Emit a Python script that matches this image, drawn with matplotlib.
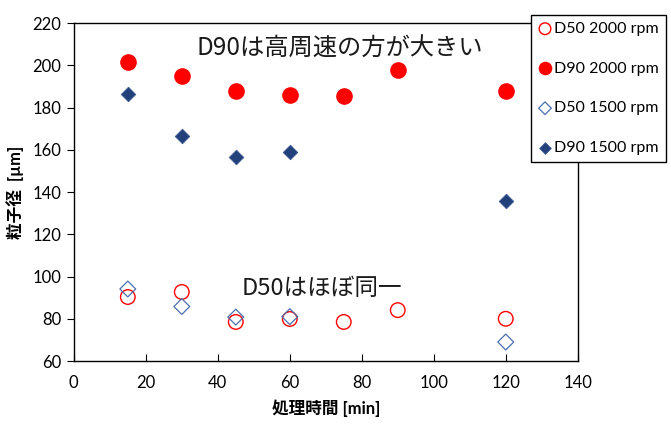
import matplotlib
matplotlib.use("Agg")
import matplotlib.pyplot as plt

plt.rcParams['font.family'] = ['Lato', 'Noto Sans CJK JP', 'DejaVu Sans']

# Data
time_2000 = [15, 30, 45, 60, 75, 90, 120]
d50_2000 = [90.3, 92.7, 78.5, 79.9, 78.5, 84.1, 80.0]
d90_2000 = [201.5, 194.9, 187.8, 186.0, 185.5, 197.7, 187.8]

time_1500 = [15, 30, 45, 60, 120]
d50_1500 = [94.1, 85.8, 80.8, 81.0, 69.0]
d90_1500 = [186.6, 166.5, 156.8, 159.2, 135.7]

labels = ["D50 2000 rpm", "D90 2000 rpm", "D50 1500 rpm", "D90 1500 rpm"]

RED = "#FF0000"
NAVY = "#22417A"
BLUE_EDGE = "#4A6FAE"
JP = ['Noto Sans CJK JP', 'DejaVu Sans']

fig = plt.figure(figsize=(6.71, 4.28), dpi=100)
ax = fig.add_axes([0.110, 0.1565, 0.751, 0.7895])

ax.scatter(time_2000, d50_2000, s=110, facecolors="none", edgecolors=RED,
           linewidths=1.0, label=labels[0], zorder=3)
ax.scatter(time_2000, d90_2000, s=120, color=RED, label=labels[1], zorder=3)
ax.scatter(time_1500, d50_1500, s=65, marker="D", facecolors="none",
           edgecolors=BLUE_EDGE, linewidths=0.9, label=labels[2], zorder=3)
ax.scatter(time_1500, d90_1500, s=55, marker="D", color=NAVY,
           edgecolors="#3C5A92", linewidths=0.6, label=labels[3], zorder=3)

ax.set_xlim(0, 140)
ax.set_ylim(60, 220)
ax.set_xticks(range(0, 141, 20))
ax.set_yticks(range(60, 221, 20))
ax.tick_params(axis="x", direction="in", length=5, labelsize=12, pad=10)
ax.tick_params(axis="y", direction="out", length=5, labelsize=12, pad=4)
for side in ax.spines.values():
    side.set_linewidth(1.0)

ax.set_xlabel("処理時間 [min]", fontsize=12, fontweight="bold", labelpad=6)
ax.set_ylabel("粒子径  [µm]", fontsize=12, fontweight="bold", labelpad=6)

ax.text(74, 208, "D90は高周速の方が大きい", fontsize=17.5, ha="center", va="center",
        color="#1a1a1a", family=JP)
ax.text(69, 94.5, "D50はほぼ同一", fontsize=17, ha="center", va="center",
        color="#1a1a1a", family=JP)

leg = fig.legend(loc="upper left", bbox_to_anchor=(0.792, 0.966),
                 bbox_transform=fig.transFigure, fontsize=11.5,
                 labelspacing=1.6, handletextpad=0.15, handlelength=0.8,
                 borderpad=0.45, borderaxespad=0, fancybox=False,
                 markerscale=0.8, framealpha=1, edgecolor="black")
leg.get_frame().set_linewidth(1.0)

fig.savefig("out.png", dpi=100)
